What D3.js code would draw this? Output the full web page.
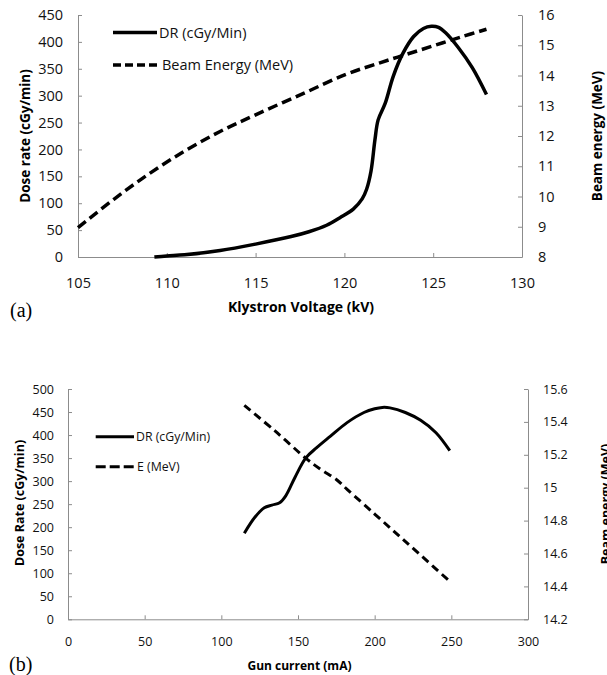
<!DOCTYPE html>
<html><head><meta charset="utf-8">
<script src="https://cdn.jsdelivr.net/npm/d3@7"></script>
<style>body{margin:0;background:#fff}svg{display:block}</style>
</head><body><svg id="c" width="607" height="675"></svg>
<script>
// ---------- Panel (a): Klystron voltage ----------
const kV_DR = [109.3,110,111,113,115,117,118,119,119.75,120.5,121,121.25,121.5,121.72,121.9,122.3,122.75,123.3,123.9,124.45,124.9,125.3,125.7,126.4,127.2,128];
const DR_a  = [0,2,4,12,24,38,47,59,73,89,108,126,160,218,255,286,336,379,410,425,429,427,417,390,352,302];
const kV_E  = [105,107,109,111,113,115,117.7,120.1,122,123.5,125,126.5,128];
const E_a   = [8.97,9.9,10.75,11.5,12.15,12.7,13.41,14.04,14.42,14.7,14.98,15.26,15.53];
const xTicks_a  = [105,110,115,120,125,130];
const yLTicks_a = [0,50,100,150,200,250,300,350,400,450];
const yRTicks_a = [8,9,10,11,12,13,14,15,16];

// ---------- Panel (b): Gun current ----------
const I_DR = [115,122,128,133,138,142,148,155,162,171,182,193,200,205,210,220,230,240,249];
const DR_b = [187,222,242,248,253,268,308,350,372,397,427,449,457,460,459,449,432,405,366];
const I_E  = [115,135,155,165,175,182,200,215,230,249];
const E_b  = [15.5,15.345,15.18,15.11,15.05,14.99,14.84,14.715,14.59,14.43];
const xTicks_b  = [0,50,100,150,200,250,300];
const yLTicks_b = [0,50,100,150,200,250,300,350,400,450,500];
const yRTicks_b = [14.2,14.4,14.6,14.8,15,15.2,15.4,15.6];

const svg = d3.select('#c');
const SANS = "'Open Sans', sans-serif";
const AXIS = '#8c8c8c';

function panel(c) {
  const g = svg.append('g');
  const x = d3.scaleLinear().domain(c.xDom).range([c.L, c.R]);
  const yl = d3.scaleLinear().domain(c.ylDom).range([c.B, c.T]);
  const yr = d3.scaleLinear().domain(c.yrDom).range([c.B, c.T]);

  const styleAxis = (sel, fs) => {
    sel.select('.domain').attr('stroke', AXIS).attr('stroke-width', 1);
    sel.selectAll('.tick line').attr('stroke', AXIS).attr('stroke-width', 1);
    sel.selectAll('.tick text').attr('font-family', SANS).attr('font-size', fs).attr('fill', '#111');
  };
  g.append('g').attr('transform', `translate(0,${c.B})`)
    .call(d3.axisBottom(x).tickValues(c.xTicks).tickSizeInner(-4).tickSizeOuter(0).tickPadding(c.xPad).tickFormat(d3.format('d')))
    .call(s => styleAxis(s, c.fs));
  g.append('g').attr('transform', `translate(${c.L},0)`)
    .call(d3.axisLeft(yl).tickValues(c.ylTicks).tickSizeInner(-4).tickSizeOuter(0).tickPadding(c.lPad).tickFormat(d3.format('d')))
    .call(s => styleAxis(s, c.fs));
  g.append('g').attr('transform', `translate(${c.R},0)`)
    .call(d3.axisRight(yr).tickValues(c.yrTicks).tickSizeInner(-4).tickSizeOuter(0).tickPadding(c.rPad).tickFormat(c.yrFmt))
    .call(s => styleAxis(s, c.fs));

  const curve = d3.curveCatmullRom.alpha(0.5);
  const lineL = d3.line().x(d => x(d[0])).y(d => yl(d[1])).curve(curve);
  const lineR = d3.line().x(d => x(d[0])).y(d => yr(d[1])).curve(curve);
  g.append('path').datum(d3.zip(c.eX, c.eY)).attr('d', lineR)
    .attr('fill', 'none').attr('stroke', '#000').attr('stroke-width', c.lw).attr('stroke-dasharray', c.dash);
  g.append('path').datum(d3.zip(c.dX, c.dY)).attr('d', lineL)
    .attr('fill', 'none').attr('stroke', '#000').attr('stroke-width', c.lw);

  // legend
  g.append('line').attr('x1', c.lg.x1).attr('x2', c.lg.x2).attr('y1', c.lg.y1).attr('y2', c.lg.y1)
    .attr('stroke', '#000').attr('stroke-width', c.lw);
  g.append('line').attr('x1', c.lg.x1).attr('x2', c.lg.x2d).attr('y1', c.lg.y2).attr('y2', c.lg.y2)
    .attr('stroke', '#000').attr('stroke-width', c.lw).attr('stroke-dasharray', c.lg.dash);
  g.append('text').attr('x', c.lg.tx1).attr('y', c.lg.y1).attr('dy', '0.35em')
    .attr('font-family', SANS).attr('font-size', c.lg.fs).attr('fill', '#111').text(c.lg.t1);
  g.append('text').attr('x', c.lg.tx2).attr('y', c.lg.y2).attr('dy', '0.35em')
    .attr('font-family', SANS).attr('font-size', c.lg.fs).attr('fill', '#111').text(c.lg.t2);

  // titles
  g.append('text').attr('transform', `translate(${c.ylt.x},${c.ylt.y}) rotate(-90)`)
    .attr('text-anchor', 'middle').attr('font-family', SANS).attr('font-weight', 'bold')
    .attr('font-size', c.tfs).text(c.ylt.t);
  g.append('text').attr('transform', `translate(${c.yrt.x},${c.yrt.y}) rotate(-90)`)
    .attr('text-anchor', 'middle').attr('font-family', SANS).attr('font-weight', 'bold')
    .attr('font-size', c.tfs).text(c.yrt.t);
  g.append('text').attr('x', c.xt.x).attr('y', c.xt.y)
    .attr('text-anchor', 'middle').attr('font-family', SANS).attr('font-weight', 'bold')
    .attr('font-size', c.xfs).text(c.xt.t);
  g.append('text').attr('x', c.tag.x).attr('y', c.tag.y)
    .attr('font-family', "'Liberation Serif', 'Times New Roman', serif")
    .attr('font-size', 20).text(c.tag.t);
}

panel({
  xDom: [105, 130], ylDom: [0, 450], yrDom: [8, 16],
  L: 78, R: 522, T: 15, B: 257,
  xTicks: xTicks_a, ylTicks: yLTicks_a, yrTicks: yRTicks_a, yrFmt: d3.format('d'),
  fs: 14.5, xPad: 21, lPad: 15, rPad: 16,
  dX: kV_DR, dY: DR_a, eX: kV_E, eY: E_a, lw: 3.5, dash: '10,5',
  lg: {x1: 113, x2: 157, x2d: 157, y1: 32.5, y2: 65, dash: '8,4', tx1: 159, tx2: 162, fs: 14.5,
       t1: 'DR (cGy/Min)', t2: 'Beam Energy (MeV)'},
  tfs: 13.5, xfs: 14,
  ylt: {x: 30, y: 136, t: 'Dose rate (cGy/min)'},
  yrt: {x: 602, y: 136, t: 'Beam energy (MeV)'},
  xt: {x: 301, y: 312, t: 'Klystron Voltage (kV)'},
  tag: {x: 10, y: 317, t: '(a)'}
});

panel({
  xDom: [0, 300], ylDom: [0, 500], yrDom: [14.2, 15.6],
  L: 68, R: 528, T: 389, B: 619.3,
  xTicks: xTicks_b, ylTicks: yLTicks_b, yrTicks: yRTicks_b, yrFmt: d => d3.format('.1f')(d).replace(/\.0$/, ''),
  fs: 12.5, xPad: 18, lPad: 14, rPad: 15,
  dX: I_DR, dY: DR_b, eX: I_E, eY: E_b, lw: 3, dash: '8,5',
  lg: {x1: 95.7, x2: 134, x2d: 134, y1: 436.7, y2: 466.7, dash: '10,4', tx1: 136, tx2: 137, fs: 12.3,
       t1: 'DR (cGy/Min)', t2: 'E (MeV)'},
  tfs: 12.5, xfs: 12,
  ylt: {x: 23.5, y: 503, t: 'Dose Rate (cGy/min)'},
  yrt: {x: 610, y: 504, t: 'Beam energy (MeV)'},
  xt: {x: 299.5, y: 670, t: 'Gun current (mA)'},
  tag: {x: 9, y: 671, t: '(b)'}
});
</script>
</body></html>
